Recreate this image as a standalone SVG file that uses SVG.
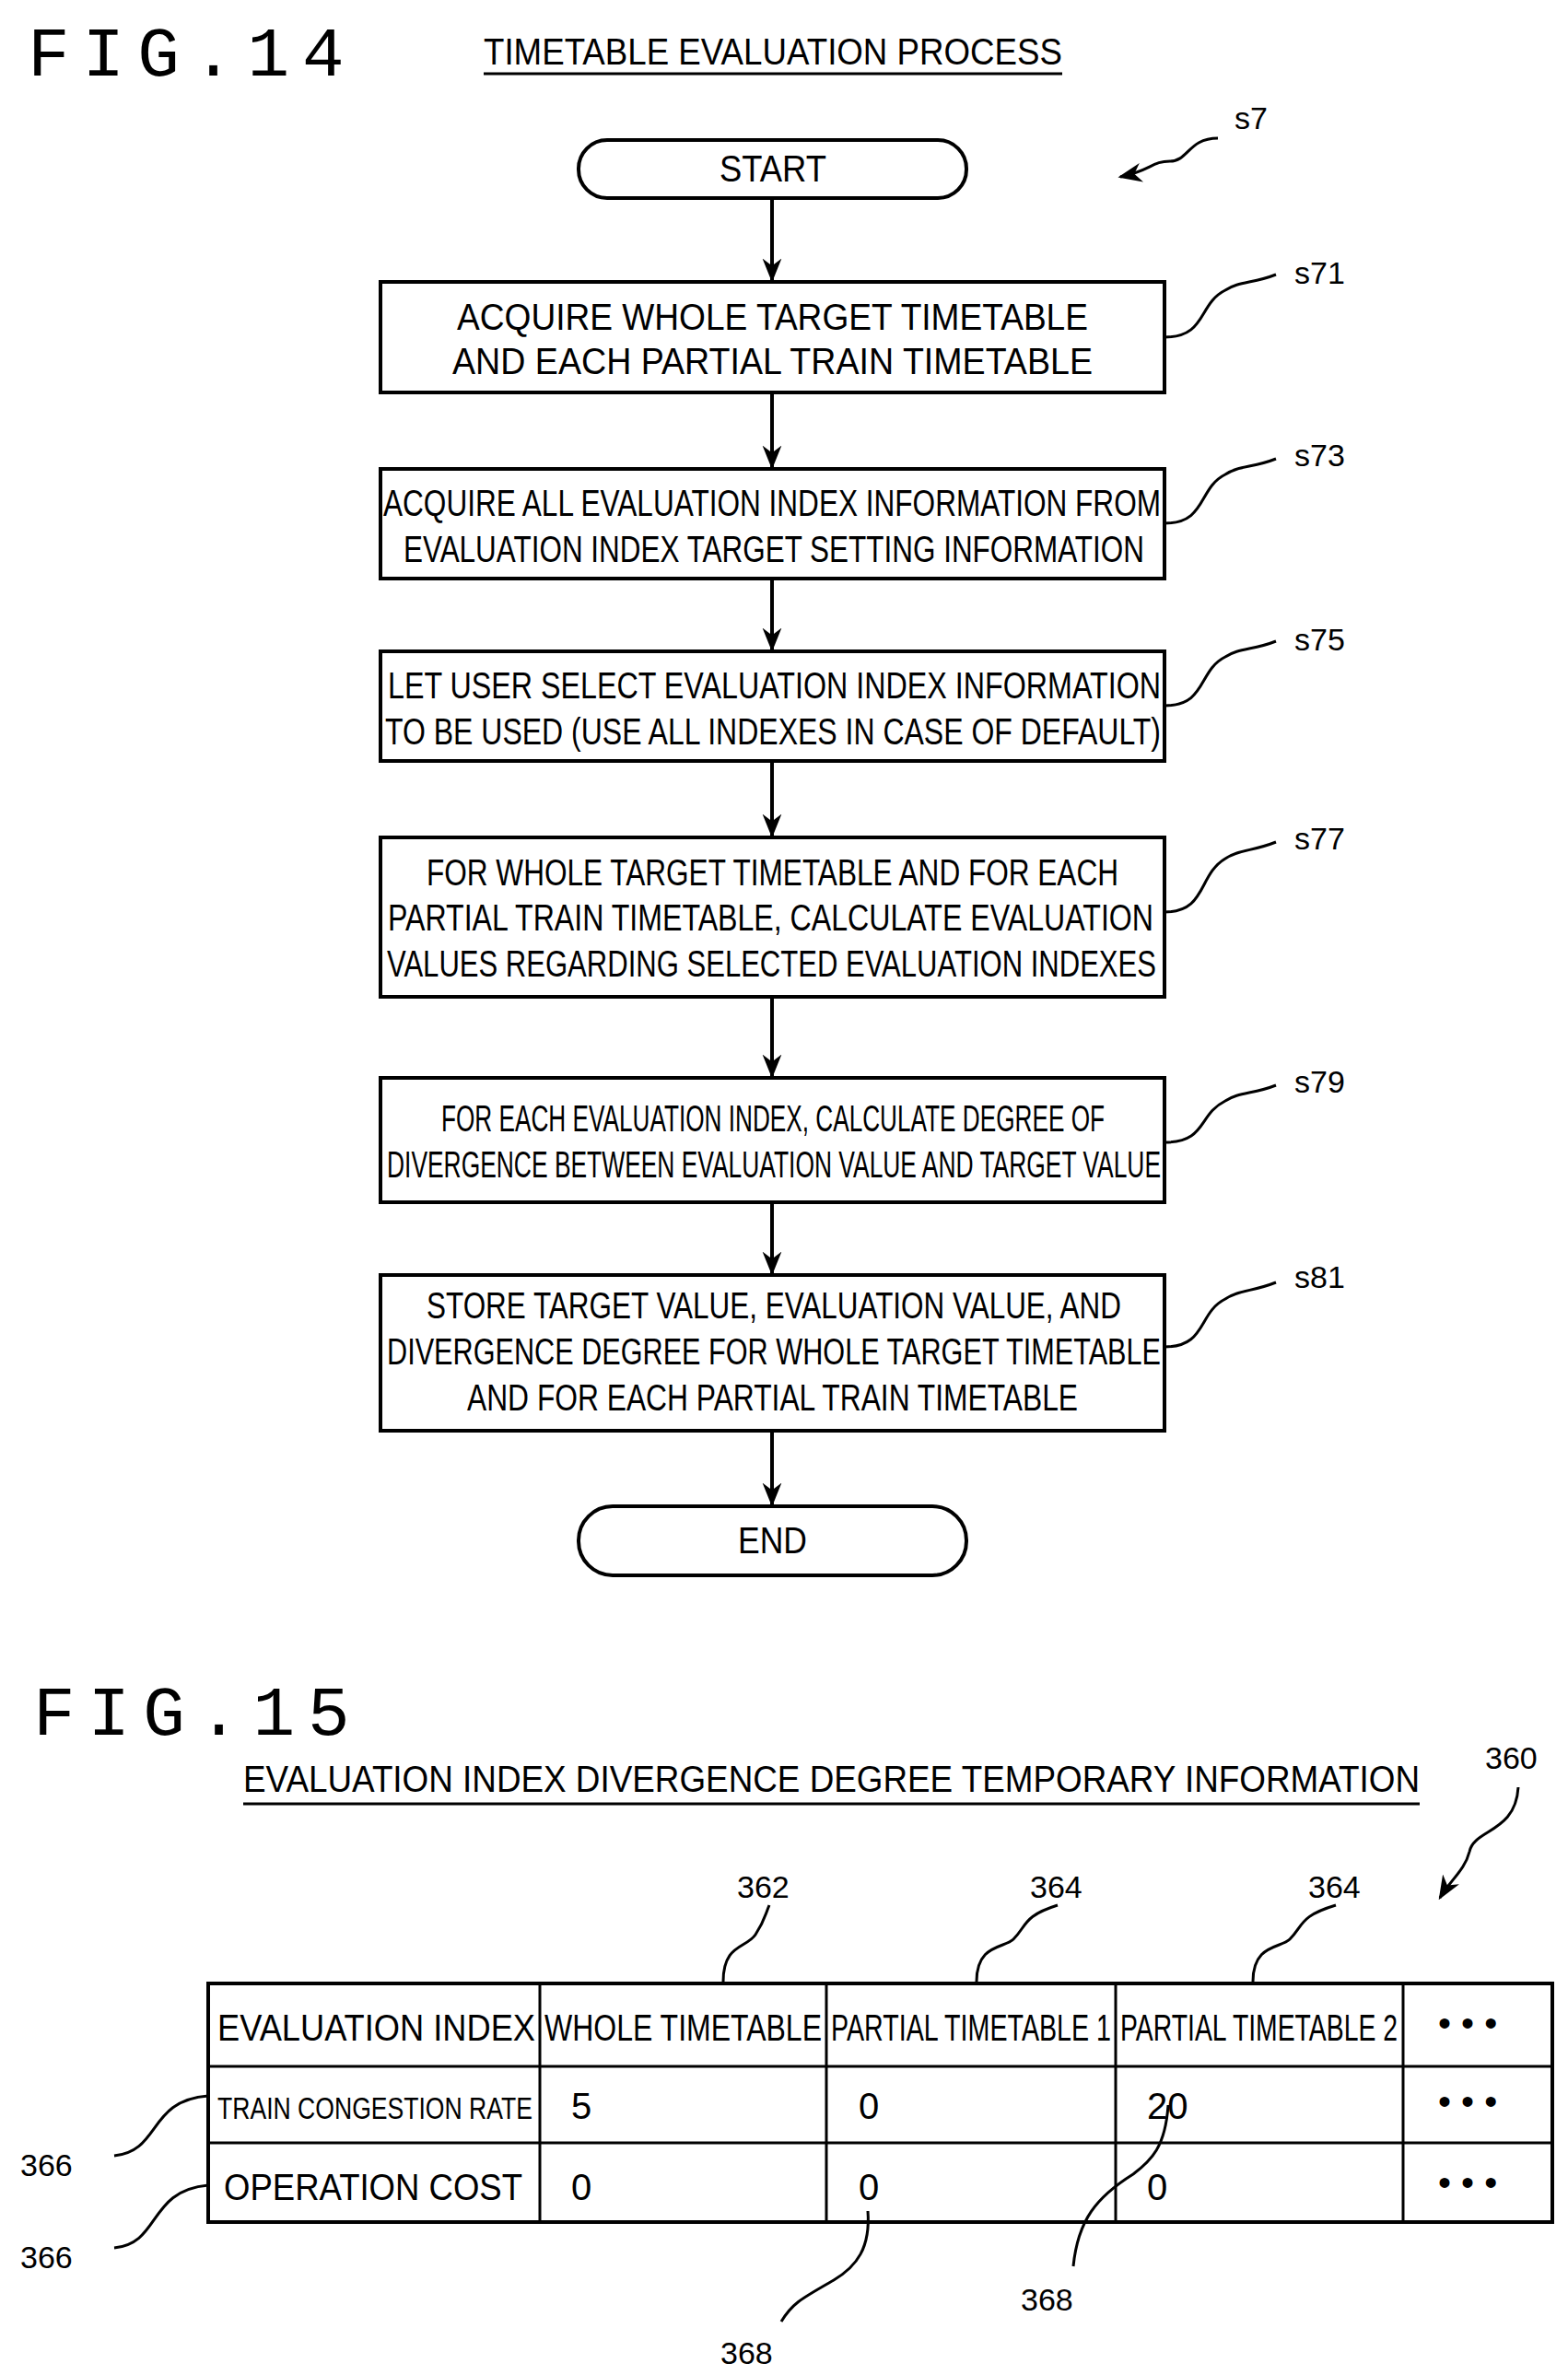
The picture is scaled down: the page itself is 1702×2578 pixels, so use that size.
<svg xmlns="http://www.w3.org/2000/svg" width="1702" height="2578" viewBox="0 0 1702 2578">
<style>
text{font-family:"Liberation Sans",Arial,sans-serif;fill:#000}
.fig{font-size:76px;font-family:"Liberation Mono","DejaVu Sans Mono",monospace;letter-spacing:14px}
.t{font-size:40px}
.lbl{font-size:34px}
.box{fill:#fff;stroke:#000;stroke-width:4}
.ln{fill:none;stroke:#000;stroke-width:3}
.c{fill:none;stroke:#000;stroke-width:4}
</style>
<defs>
<marker id="ah" viewBox="0 0 10 10" refX="9" refY="5" markerWidth="8" markerHeight="8" markerUnits="userSpaceOnUse" orient="auto"><path d="M0,0 L10,5 L0,10 L4,5 z" fill="#000"/></marker>
<marker id="ah2" viewBox="0 0 10 10" refX="9" refY="5" markerWidth="26" markerHeight="26" markerUnits="userSpaceOnUse" orient="auto"><path d="M0,1 L10,5 L0,9 L3,5 z" fill="#000"/></marker>
</defs>
<text class="fig" x="30" y="82">FIG.14</text>
<text class="t" x="525" y="70" textLength="628" lengthAdjust="spacingAndGlyphs">TIMETABLE EVALUATION PROCESS</text>
<line class="ln" x1="525" y1="80" x2="1153" y2="80"/>
<g id="connectors">
<line class="c" x1="838" y1="215" x2="838" y2="304" marker-end="url(#ah2)"/>
<line class="c" x1="838" y1="426" x2="838" y2="507" marker-end="url(#ah2)"/>
<line class="c" x1="838" y1="628" x2="838" y2="705" marker-end="url(#ah2)"/>
<line class="c" x1="838" y1="826" x2="838" y2="907" marker-end="url(#ah2)"/>
<line class="c" x1="838" y1="1082" x2="838" y2="1168" marker-end="url(#ah2)"/>
<line class="c" x1="838" y1="1305" x2="838" y2="1382" marker-end="url(#ah2)"/>
<line class="c" x1="838" y1="1553" x2="838" y2="1633" marker-end="url(#ah2)"/>
</g>
<g id="s7"><text class="lbl" x="1340" y="140">s7</text><path class="ln" d="M1322,150 C1290,150 1290,175 1270,175 C1250,175 1250,185 1216,192" marker-end="url(#ah2)"/></g>
<g id="start"><rect class="box" x="628" y="152" width="421" height="63" rx="31"/><text class="t" x="781" y="197" textLength="116" lengthAdjust="spacingAndGlyphs">START</text></g>
<g id="s71"><rect class="box" x="413" y="306" width="851" height="120"/>
<text class="t" x="496" y="358" textLength="685" lengthAdjust="spacingAndGlyphs">ACQUIRE WHOLE TARGET TIMETABLE</text>
<text class="t" x="491" y="406" textLength="695" lengthAdjust="spacingAndGlyphs">AND EACH PARTIAL TRAIN TIMETABLE</text>
<text class="lbl" x="1405" y="308">s71</text><path class="ln" d="M1264,366 C1310,366 1300,330 1330,315 C1345,305 1360,308 1385,298"/></g>
<g id="s73"><rect class="box" x="413" y="509" width="851" height="119"/>
<text class="t" x="416" y="560" textLength="844" lengthAdjust="spacingAndGlyphs">ACQUIRE ALL EVALUATION INDEX INFORMATION FROM</text>
<text class="t" x="438" y="610" textLength="804" lengthAdjust="spacingAndGlyphs">EVALUATION INDEX TARGET SETTING INFORMATION</text>
<text class="lbl" x="1405" y="506">s73</text><path class="ln" d="M1264,568 C1310,568 1300,530 1330,515 C1345,505 1360,508 1385,498"/></g>
<g id="s75"><rect class="box" x="413" y="707" width="851" height="119"/>
<text class="t" x="421" y="758" textLength="839" lengthAdjust="spacingAndGlyphs">LET USER SELECT EVALUATION INDEX INFORMATION</text>
<text class="t" x="418" y="808" textLength="842" lengthAdjust="spacingAndGlyphs">TO BE USED (USE ALL INDEXES IN CASE OF DEFAULT)</text>
<text class="lbl" x="1405" y="706">s75</text><path class="ln" d="M1264,766 C1310,766 1300,728 1330,713 C1345,703 1360,706 1385,696"/></g>
<g id="s77"><rect class="box" x="413" y="909" width="851" height="173"/>
<text class="t" x="463" y="961" textLength="751" lengthAdjust="spacingAndGlyphs">FOR WHOLE TARGET TIMETABLE AND FOR EACH</text>
<text class="t" x="421" y="1010" textLength="831" lengthAdjust="spacingAndGlyphs">PARTIAL TRAIN TIMETABLE, CALCULATE EVALUATION</text>
<text class="t" x="420" y="1060" textLength="835" lengthAdjust="spacingAndGlyphs">VALUES REGARDING SELECTED EVALUATION INDEXES</text>
<text class="lbl" x="1405" y="922">s77</text><path class="ln" d="M1264,990 C1310,990 1300,950 1330,932 C1345,922 1360,924 1385,914"/></g>
<g id="s79"><rect class="box" x="413" y="1170" width="851" height="135"/>
<text class="t" x="479" y="1228" textLength="720" lengthAdjust="spacingAndGlyphs">FOR EACH EVALUATION INDEX, CALCULATE DEGREE OF</text>
<text class="t" x="420" y="1278" textLength="840" lengthAdjust="spacingAndGlyphs">DIVERGENCE BETWEEN EVALUATION VALUE AND TARGET VALUE</text>
<text class="lbl" x="1405" y="1186">s79</text><path class="ln" d="M1264,1240 C1310,1240 1300,1210 1330,1195 C1345,1185 1360,1188 1385,1178"/></g>
<g id="s81"><rect class="box" x="413" y="1384" width="851" height="169"/>
<text class="t" x="463" y="1431" textLength="754" lengthAdjust="spacingAndGlyphs">STORE TARGET VALUE, EVALUATION VALUE, AND</text>
<text class="t" x="420" y="1481" textLength="840" lengthAdjust="spacingAndGlyphs">DIVERGENCE DEGREE FOR WHOLE TARGET TIMETABLE</text>
<text class="t" x="507" y="1531" textLength="663" lengthAdjust="spacingAndGlyphs">AND FOR EACH PARTIAL TRAIN TIMETABLE</text>
<text class="lbl" x="1405" y="1398">s81</text><path class="ln" d="M1264,1462 C1310,1462 1300,1425 1330,1410 C1345,1400 1360,1402 1385,1392"/></g>
<g id="end"><rect class="box" x="628" y="1635" width="421" height="75" rx="37"/><text class="t" x="801" y="1686" textLength="75" lengthAdjust="spacingAndGlyphs">END</text></g>

<text class="fig" x="36" y="1883">FIG.15</text>
<text class="t" x="264" y="1945" textLength="1277" lengthAdjust="spacingAndGlyphs">EVALUATION INDEX DIVERGENCE DEGREE TEMPORARY INFORMATION</text>
<line class="ln" x1="264" y1="1958" x2="1541" y2="1958"/>
<g id="ref360"><text class="lbl" x="1612" y="1920">360</text><path class="ln" d="M1648,1940 C1645,1990 1600,1985 1595,2010 C1590,2030 1575,2040 1563,2060" marker-end="url(#ah2)"/></g>
<g id="table">
<rect x="226" y="2153" width="1459" height="259" fill="#fff" stroke="#000" stroke-width="4"/>
<line class="ln" x1="226" y1="2243" x2="1685" y2="2243"/>
<line class="ln" x1="226" y1="2326" x2="1685" y2="2326"/>
<line class="ln" x1="586" y1="2153" x2="586" y2="2412"/>
<line class="ln" x1="897" y1="2153" x2="897" y2="2412"/>
<line class="ln" x1="1211" y1="2153" x2="1211" y2="2412"/>
<line class="ln" x1="1523" y1="2153" x2="1523" y2="2412"/>
<text class="t" x="236" y="2215" textLength="345" lengthAdjust="spacingAndGlyphs">EVALUATION INDEX</text>
<text class="t" x="591" y="2215" textLength="301" lengthAdjust="spacingAndGlyphs">WHOLE TIMETABLE</text>
<text class="t" x="902" y="2215" textLength="304" lengthAdjust="spacingAndGlyphs">PARTIAL TIMETABLE 1</text>
<text class="t" x="1216" y="2215" textLength="301" lengthAdjust="spacingAndGlyphs">PARTIAL TIMETABLE 2</text>
<text class="t" x="1561" y="2210">• • •</text>
<text class="t" x="236" y="2300" textLength="342" lengthAdjust="spacingAndGlyphs" style="font-size:34px">TRAIN CONGESTION RATE</text>
<text class="t" x="620" y="2300">5</text>
<text class="t" x="932" y="2300">0</text>
<text class="t" x="1245" y="2300">20</text>
<text class="t" x="1561" y="2295">• • •</text>
<text class="t" x="243" y="2388" textLength="324" lengthAdjust="spacingAndGlyphs">OPERATION COST</text>
<text class="t" x="620" y="2388">0</text>
<text class="t" x="932" y="2388">0</text>
<text class="t" x="1245" y="2388">0</text>
<text class="t" x="1561" y="2383">• • •</text>
</g>
<g id="ref362"><text class="lbl" x="800" y="2060">362</text><path class="ln" d="M785,2151 C785,2110 810,2115 820,2100 C830,2085 830,2080 835,2068"/></g>
<g id="ref364a"><text class="lbl" x="1118" y="2060">364</text><path class="ln" d="M1060,2151 C1060,2110 1090,2115 1100,2105 C1115,2090 1110,2080 1148,2068"/></g>
<g id="ref364b"><text class="lbl" x="1420" y="2060">364</text><path class="ln" d="M1360,2151 C1360,2110 1390,2115 1400,2105 C1415,2090 1410,2080 1450,2068"/></g>
<g id="ref366a"><text class="lbl" x="22" y="2362">366</text><path class="ln" d="M124,2340 C175,2335 160,2280 226,2275"/></g>
<g id="ref366b"><text class="lbl" x="22" y="2462">366</text><path class="ln" d="M124,2440 C175,2435 160,2378 226,2372"/></g>
<g id="ref368a"><text class="lbl" x="782" y="2566">368</text><path class="ln" d="M942,2400 C945,2440 930,2460 905,2475 C870,2495 860,2500 848,2520"/></g>
<g id="ref368b"><text class="lbl" x="1108" y="2508">368</text><path class="ln" d="M1268,2285 C1265,2330 1250,2345 1230,2360 C1190,2385 1170,2410 1165,2460"/></g>
</svg>
